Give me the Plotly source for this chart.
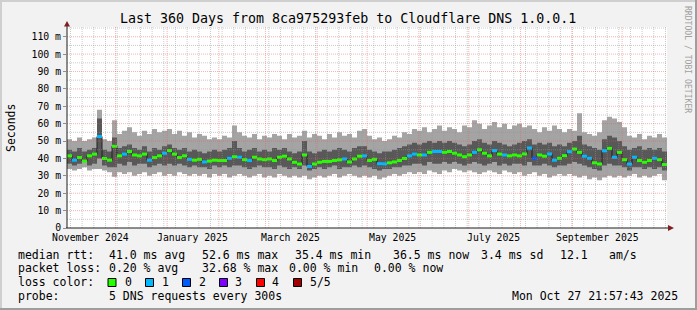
import pandas as pd
import plotly.graph_objects as go

# ---------------- data (milliseconds, one value per 3-day step) ----------------
start = pd.Timestamp("2024-11-01 21:57:43")
end = pd.Timestamp("2025-10-27 21:57:43")
step_days = 3

ping_max = [51, 50, 52, 50, 51, 52, 68, 51, 50, 62,
            54, 56, 58, 55, 53, 56, 54, 57, 55, 56,
            57, 54, 56, 53, 55, 52, 54, 53, 51, 52,
            51, 53, 52, 59, 55, 53, 52, 54, 51, 53,
            52, 54, 53, 51, 54, 52, 53, 56, 52, 54,
            53, 51, 54, 52, 55, 53, 54, 52, 56, 57,
            53, 51, 52, 50, 51, 53, 52, 55, 54, 57,
            56, 58, 55, 57, 59, 56, 58, 57, 55, 59,
            58, 62, 60, 57, 59, 61, 58, 60, 57, 59,
            60, 58, 59, 57, 55, 58, 56, 59, 57, 55,
            57, 56, 66, 55, 54, 53, 55, 62, 64, 63,
            61, 58, 53, 52, 54, 51, 53, 52, 54, 52]

ping_hi = [45, 44, 46, 44, 45, 46, 63, 45, 44, 52,
           46, 47, 48, 46, 45, 47, 44, 46, 45, 47,
           48, 46, 45, 46, 44, 45, 44, 43, 44, 45,
           44, 45, 46, 50, 46, 44, 45, 46, 44, 45,
           44, 46, 45, 46, 44, 43, 44, 50, 44, 43,
           44, 45, 44, 45, 46, 45, 44, 46, 47, 47,
           45, 44, 43, 44, 44, 45, 46, 47, 48, 49,
           48, 49, 50, 49, 50, 49, 50, 49, 48, 47,
           48, 50, 51, 49, 48, 50, 49, 48, 47, 48,
           49, 50, 51, 48, 49, 48, 49, 47, 48, 47,
           49, 50, 53, 48, 47, 46, 45, 51, 53, 52,
           50, 47, 45, 46, 47, 45, 46, 45, 46, 44]

median = [41.5, 39, 40.5, 38.5, 41.5, 42.5, 52.6, 40, 39, 47,
          41.5, 42.5, 44, 42, 41.5, 42.5, 39, 40.5, 41.5, 43,
          44.5, 42.5, 40.5, 41.5, 39.5, 39, 39.5, 38, 38.5, 39,
          38.8, 38.8, 40.1, 41, 40.7, 39.3, 38.8, 40.7, 39.7, 39.3,
          39.7, 38.8, 40.7, 41.3, 39.7, 37.8, 36.8, 42, 35.4, 36.8,
          37.8, 38.3, 38.3, 38.8, 39.2, 39.7, 38, 39.7, 41.3, 41.5,
          38.8, 39.5, 37, 36.9, 37.5, 38, 38.8, 40, 41.5, 42.5,
          42, 42, 43.5, 44, 44, 43.5, 44, 43, 42, 41,
          42, 43.5, 45, 43, 41.5, 44.5, 42.5, 42, 41.5, 42,
          41.5, 42.6, 46, 40, 42, 41.3, 42.6, 39, 40.1, 41.6,
          43.9, 45.4, 43.5, 41.3, 40.1, 37.5, 36.8, 44.4, 45.8, 40.7,
          43.5, 39.3, 36.8, 40.7, 38.8, 37.8, 38.8, 40.1, 39.3, 36.5]

ping_lo = [37, 36, 37, 38, 36, 37, 40, 36, 35, 35,
           37, 36, 38, 36, 37, 37, 35, 36, 37, 36,
           37, 36, 37, 36, 35, 36, 35, 35, 34, 36,
           35, 36, 35, 36, 36, 35, 34, 35, 36, 35,
           35, 34, 36, 35, 34, 35, 34, 36, 33, 34,
           35, 34, 35, 36, 34, 35, 35, 36, 35, 36,
           35, 34, 33, 34, 34, 35, 35, 36, 36, 37,
           37, 36, 38, 37, 37, 38, 37, 38, 37, 36,
           37, 38, 37, 36, 37, 38, 36, 37, 36, 37,
           37, 36, 38, 36, 36, 37, 36, 35, 36, 36,
           37, 38, 37, 36, 35, 34, 33, 36, 37, 36,
           36, 35, 33, 35, 35, 34, 35, 34, 35, 33]

ping_min = [34, 33, 34, 35, 33, 34, 34, 33, 32, 29.5,
            32, 31, 32, 30, 31, 32, 30, 31, 32, 30,
            31, 30, 32, 31, 30, 31, 30, 31, 29, 31,
            30, 31, 29, 30, 31, 30, 29, 30, 31, 29,
            30, 29, 31, 30, 29, 30, 29, 30, 28, 29,
            30, 29, 30, 31, 29, 30, 31, 30, 29, 30,
            29, 30, 28, 29, 30, 31, 30, 31, 32, 31,
            32, 31, 33, 32, 31, 33, 32, 34, 33, 32,
            33, 32, 31, 32, 33, 32, 31, 33, 32, 31,
            32, 30, 31, 32, 30, 31, 29, 30, 31, 30,
            31, 30, 29, 30, 28, 29, 27.5, 29, 30, 29,
            30, 29, 30, 31, 29, 30, 29, 30, 31, 27.5]

loss = [0, 1, 0, 0, 0, 0, 1, 0, 0, 0,
        0, 1, 0, 0, 0, 0, 1, 0, 0, 1,
        0, 0, 0, 0, 1, 0, 0, 1, 0, 0,
        0, 0, 1, 0, 1, 0, 1, 0, 0, 0,
        0, 0, 0, 0, 0, 0, 0, 0, 1, 0,
        0, 0, 0, 0, 0, 1, 0, 0, 0, 1,
        0, 0, 1, 1, 0, 0, 0, 0, 1, 1,
        0, 1, 0, 1, 1, 0, 0, 0, 0, 0,
        0, 1, 0, 0, 0, 1, 0, 1, 0, 0,
        0, 0, 1, 2, 0, 0, 1, 1, 0, 0,
        1, 0, 0, 1, 1, 0, 0, 1, 0, 1,
        0, 0, 1, 1, 0, 0, 0, 1, 0, 0]

loss_labels = ["0", "1", "2", "3", "4", "5/5"]
loss_colors = ["#26ff00", "#00b8ff", "#0059ff", "#7e00ff", "#ff0000", "#a10000"]

y_ticks = [0, 10, 20, 30, 40, 50, 60, 70, 80, 90, 100, 110]
y_ticktext = ["0"] + [f"{v} m" for v in y_ticks[1:]]
x_label_months = ["2024-11-01", "2025-01-01", "2025-03-01", "2025-05-01", "2025-07-01", "2025-09-01"]
x_label_text = ["November 2024", "January 2025", "March 2025", "May 2025", "July 2025", "September 2025"]

title = "Last 360 Days from 8ca975293feb to Cloudflare DNS 1.0.0.1"
legend_rtt = ["median rtt:", "41.0 ms avg", "52.6 ms max", "35.4 ms min", "36.5 ms now", "3.4 ms sd", "12.1", "am/s"]
legend_loss = ["packet loss:", "0.20 % avg", "32.68 % max", "0.00 % min", "0.00 % now"]
probe_text = ["probe:", "5 DNS requests every 300s"]
stamp = "Mon Oct 27 21:57:43 2025"

# ---------------- geometry ----------------
FW, FH = 697, 310
L, T, W, H = 67, 27, 600, 201
YMAX = 115.6
MONO = "DejaVu Sans Mono"


def px(x):
    return (x - L) / W


def py(y):
    return (T + H - y) / H


times = [start + pd.Timedelta(days=step_days * i) for i in range(len(median))]
xs = times + [end]


def closed(a):
    return list(a) + [a[-1]]


fig = go.Figure()

# outer smoke (min..max)
fig.add_trace(go.Scatter(x=xs, y=closed(ping_min), mode="lines", line=dict(width=0, shape="hv"),
                         hoverinfo="skip", showlegend=False))
fig.add_trace(go.Scatter(x=xs, y=closed(ping_max), mode="lines", line=dict(width=0, shape="hv"),
                         fill="tonexty", fillcolor="#a4a4a4", hoverinfo="skip", showlegend=False))
# inner smoke
fig.add_trace(go.Scatter(x=xs, y=closed(ping_lo), mode="lines", line=dict(width=0, shape="hv"),
                         hoverinfo="skip", showlegend=False))
fig.add_trace(go.Scatter(x=xs, y=closed(ping_hi), mode="lines", line=dict(width=0, shape="hv"),
                         fill="tonexty", fillcolor="#585858", hoverinfo="skip", showlegend=False))
# median line
fig.add_trace(go.Scatter(x=xs, y=closed(median), mode="lines", line=dict(width=1, shape="hv", color="#202020"),
                         hoverinfo="skip", showlegend=False))
# loss-colored median segments
for k, col in enumerate(loss_colors):
    sx, sy = [], []
    for i, m in enumerate(median):
        if loss[i] == k:
            sx += [xs[i], xs[i + 1], None]
            sy += [m, m, None]
    if sx:
        fig.add_trace(go.Scatter(x=sx, y=sy, mode="lines", line=dict(width=3, color=col),
                                 hoverinfo="skip", showlegend=False))

shapes = []
GRID = "rgba(150,150,150,0.5)"
MGRID = "rgba(230,90,90,0.45)"
DASH = "1px,1px"
# vertical grid (weekly minor on Mondays, monthly major)
for d in pd.date_range("2024-11-04", end, freq="7D"):
    shapes.append(dict(type="line", xref="x", yref="paper", x0=d, x1=d, y0=0, y1=1,
                       line=dict(color=GRID, width=1, dash=DASH), layer="above"))
for d in pd.date_range("2024-12-01", end, freq="MS"):
    shapes.append(dict(type="line", xref="x", yref="paper", x0=d, x1=d, y0=0, y1=1,
                       line=dict(color=MGRID, width=1, dash=DASH), layer="above"))
for v in range(5, 116, 5):
    shapes.append(dict(type="line", xref="paper", yref="y", x0=0, x1=1, y0=v, y1=v,
                       line=dict(color=MGRID if v % 10 == 0 else GRID, width=1, dash=DASH), layer="above"))

# axes
shapes.append(dict(type="line", xref="paper", yref="paper", x0=px(67), x1=px(67), y0=py(228), y1=py(25),
                   line=dict(color="#1f1f1f", width=1), layer="above"))
shapes.append(dict(type="line", xref="paper", yref="paper", x0=px(66), x1=px(669), y0=py(228), y1=py(228),
                   line=dict(color="#1f1f1f", width=1), layer="above"))
# arrows
shapes.append(dict(type="path", xref="paper", yref="paper",
                   path=f"M {px(64)} {py(26.5)} L {px(70)} {py(26.5)} L {px(67)} {py(21)} Z",
                   fillcolor="#801f1f", line=dict(width=0), layer="above"))
shapes.append(dict(type="path", xref="paper", yref="paper",
                   path=f"M {px(668)} {py(225)} L {px(668)} {py(231)} L {px(674)} {py(228)} Z",
                   fillcolor="#801f1f", line=dict(width=0), layer="above"))
# frame
shapes.append(dict(type="rect", xref="paper", yref="paper", x0=px(0), x1=px(FW), y0=py(0), y1=py(2),
                   fillcolor="#cfcfcf", line=dict(width=0), layer="above"))
shapes.append(dict(type="rect", xref="paper", yref="paper", x0=px(0), x1=px(2), y0=py(0), y1=py(FH),
                   fillcolor="#cfcfcf", line=dict(width=0), layer="above"))
shapes.append(dict(type="rect", xref="paper", yref="paper", x0=px(0), x1=px(FW), y0=py(FH - 2), y1=py(FH),
                   fillcolor="#9e9e9e", line=dict(width=0), layer="above"))
shapes.append(dict(type="rect", xref="paper", yref="paper", x0=px(FW - 2), x1=px(FW), y0=py(0), y1=py(FH),
                   fillcolor="#9e9e9e", line=dict(width=0), layer="above"))

annotations = []


def text(s, x, y, size=11.5, anchor="left", color="black", angle=0):
    annotations.append(dict(text=s, x=px(x), y=py(y), xref="paper", yref="paper", xanchor=anchor,
                            yanchor="middle", showarrow=False, textangle=angle,
                            font=dict(family=MONO, size=size, color=color)))


text(title, 347.5, 19, size=13.3, anchor="center")
text("Seconds", 11, 128, size=11.5, anchor="center", angle=-90)
text("RRDTOOL / TOBI OETIKER", 688, 59, size=8.1, anchor="center", color="#a0a0a0", angle=90)

# x labels (centered half a month after month start)
for m, lab in zip(x_label_months, x_label_text):
    d = pd.Timestamp(m) + pd.Timedelta(days=15)
    annotations.append(dict(text=lab, x=d, y=py(237.5), xref="x", yref="paper", xanchor="center",
                            yanchor="middle", showarrow=False, font=dict(family=MONO, size=9.8, color="black")))

# legend lines
for s, x in zip(legend_rtt, [16, 107, 200, 293, 390.5, 479, 558, 607.3]):
    text(s, x, 254.5)
for s, x in zip(legend_loss, [16, 107, 200, 286.7, 372.3]):
    text(s, x, 268.3)
text("loss color:", 16, 282.4)
for k, (lab, col) in enumerate(zip(loss_labels, loss_colors)):
    bx = [108, 145.5, 182.5, 219.5, 256.5, 293.5][k]
    shapes.append(dict(type="rect", xref="paper", yref="paper", x0=px(bx), x1=px(bx + 8),
                       y0=py(278.5), y1=py(286.5), fillcolor=col, line=dict(color="black", width=1),
                       layer="above"))
    text(lab, [123, 160, 197, 233, 270, 308][k], 282.4)
text(probe_text[0], 16, 296)
text(probe_text[1], 107, 296)
text(stamp, 680, 296, anchor="right")

fig.update_layout(
    width=FW, height=FH, autosize=False,
    margin=dict(l=L, r=FW - L - W, t=T, b=FH - T - H, pad=0),
    paper_bgcolor="#f2f2f2", plot_bgcolor="white",
    showlegend=False, shapes=shapes, annotations=annotations,
    xaxis=dict(type="date", range=[start, end], showgrid=False, zeroline=False, showticklabels=False,
               ticks="", showline=False, fixedrange=True),
    yaxis=dict(range=[0, YMAX], tickmode="array", tickvals=y_ticks, ticktext=y_ticktext,
               showgrid=False, zeroline=False, showline=False, ticks="outside", ticklen=3,
               tickcolor="#8f8f8f", tickfont=dict(family=MONO, size=9.8, color="black"),
               fixedrange=True),
)

fig.write_html("out.html", config={"displayModeBar": False, "staticPlot": True})
